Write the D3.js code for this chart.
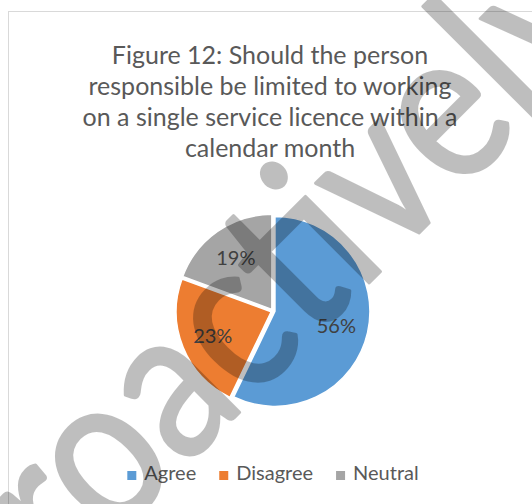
<!DOCTYPE html>
<html>
<head>
<meta charset="utf-8">
<script src="https://cdn.jsdelivr.net/npm/d3@7"></script>
<style>
  html, body { margin: 0; padding: 0; background: #fff; }
  svg { display: block; }
</style>
</head>
<body>
<svg id="chart" width="532" height="504"></svg>
<script>
// Survey responses (percent of respondents)
const categories = ["Agree", "Disagree", "Neutral"];
const values = [56, 23, 19];
const colors = ["#5b9bd5", "#ed7d31", "#a5a5a5"];
const titleLines = [
  "Figure 12: Should the person",
  "responsible be limited to working",
  "on a single service licence within a",
  "calendar month"
];
const watermarkText = "proactively";

const W = 532, H = 504;
const svg = d3.select("#chart");
const FONT = "Lato, 'Open Sans', sans-serif";

svg.append("rect").attr("width", W).attr("height", H).attr("fill", "#fff");

// chart area frame
svg.append("rect")
  .attr("x", 8.5).attr("y", 11.5)
  .attr("width", 700).attr("height", 700)
  .attr("fill", "#fff")
  .attr("stroke", "#d9d9d9")
  .attr("stroke-width", 1);

// title
svg.append("g")
  .selectAll("text")
  .data(titleLines)
  .join("text")
  .attr("x", 270)
  .attr("y", (d, i) => 64 + i * 31)
  .attr("text-anchor", "middle")
  .attr("font-family", FONT)
  .attr("font-size", 25)
  .attr("fill", "#595959")
  .text(d => d);

// pie
const cx = 273, cy = 311, R = 95, explode = 2;
const pie = d3.pie().sort(null).value(d => d.value);
const arcs = pie(categories.map((c, i) => ({ name: c, value: values[i], color: colors[i] })));
const arc = d3.arc().innerRadius(0).outerRadius(R);
const labelArc = d3.arc().innerRadius(65).outerRadius(65);

const pg = svg.append("g").attr("transform", `translate(${cx},${cy})`);
pg.selectAll("path")
  .data(arcs)
  .join("path")
  .attr("d", arc)
  .attr("transform", d => {
    const a = (d.startAngle + d.endAngle) / 2;
    return `translate(${explode * Math.sin(a)},${-explode * Math.cos(a)})`;
  })
  .attr("fill", d => d.data.color)
  .attr("stroke", "#fff")
  .attr("stroke-width", 1.5);

pg.selectAll("text")
  .data(arcs)
  .join("text")
  .attr("transform", d => `translate(${labelArc.centroid(d)})`)
  .attr("text-anchor", "middle")
  .attr("dy", "0.36em")
  .attr("font-family", FONT)
  .attr("font-size", 20)
  .attr("fill", "#404040")
  .text(d => d.data.value + "%");

// legend
const lg = svg.append("g");
const items = lg.selectAll("g")
  .data(categories)
  .join("g");
items.append("rect")
  .attr("width", 9).attr("height", 9)
  .attr("y", -9)
  .attr("fill", (d, i) => colors[i]);
items.append("text")
  .attr("x", 17)
  .attr("font-family", FONT)
  .attr("font-size", 20)
  .attr("fill", "#595959")
  .text(d => d);
const gap = 23;
const offsets = [];
let xoff = 0;
items.each(function () {
  offsets.push(xoff);
  xoff += 17 + this.querySelector("text").getComputedTextLength() + gap;
});
const legendStart = cx - (xoff - gap) / 2;
items.attr("transform", (d, i) => `translate(${legendStart + offsets[i]},480)`);

// watermark over the whole sheet
svg.append("g")
  .attr("opacity", 0.25)
  .append("text")
  .attr("transform", "translate(-8,660) rotate(-45) scale(0.86,1)")
  .attr("font-family", FONT)
  .attr("font-size", 214)
  .attr("fill", "#000")
  .attr("stroke", "#000")
  .attr("stroke-width", 3)
  .attr("stroke-linejoin", "round")
  .text(watermarkText);
</script>
</body>
</html>
